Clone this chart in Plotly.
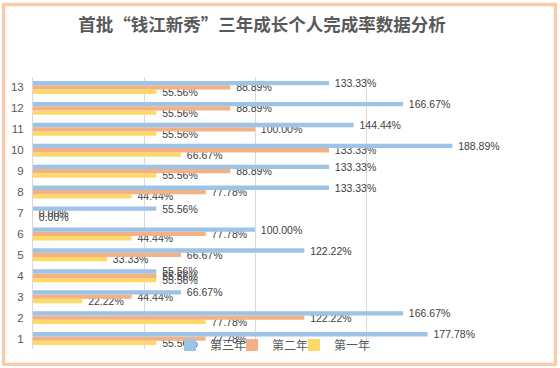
import plotly.graph_objects as go

categories = [str(i) for i in range(1, 14)]
year3 = [177.78, 166.67, 66.67, 55.56, 122.22, 100.00, 55.56, 133.33, 133.33, 188.89, 144.44, 166.67, 133.33]
year2 = [77.78, 122.22, 44.44, 55.56, 66.67, 77.78, 0.00, 77.78, 88.89, 133.33, 100.00, 88.89, 88.89]
year1 = [55.56, 77.78, 22.22, 55.56, 33.33, 44.44, 0.00, 44.44, 55.56, 66.67, 55.56, 55.56, 55.56]
series_names = ["第一年", "第二年", "第三年"]
colors = ["#FFD966", "#F4B183", "#9DC3E6"]

title = "首批“钱江新秀”三年成长个人完成率数据分析"

PW, PH = 444, 272
L, T = 33, 77
R, B = 560 - L - PW, 368 - T - PH

def px2x(px):
    return (px - L) / PW

def py2y(py):
    return (368 - B - py) / PH

legend_ids = ["legend3", "legend2", "legend"]
legend_px = [170 + 124, 170 + 62, 170]

fig = go.Figure()
for name, vals, col, lid in zip(series_names, [year1, year2, year3], colors, legend_ids):
    fig.add_trace(go.Bar(
        y=categories, x=[v / 100 for v in vals], name=name, orientation="h",
        marker=dict(color=col, line=dict(width=0)), legend=lid,
        texttemplate="\u00a0\u00a0%{x:.2%}", textposition="outside",
        constraintext="none", cliponaxis=False, hoverinfo="skip",
        textfont=dict(family="Liberation Sans", size=10.5, color="#404040"),
    ))

fig.add_shape(type="rect", xref="paper", yref="paper",
              x0=px2x(3.6), x1=px2x(555.5), y0=py2y(364.3), y1=py2y(4.5),
              line=dict(color="#F8CBAD", width=3.3), fillcolor="rgba(0,0,0,0)", layer="below")

def legend_style(px):
    return dict(orientation="h", x=px2x(px), xanchor="left",
                y=py2y(345), yanchor="middle", bgcolor="rgba(0,0,0,0)",
                itemwidth=30, font=dict(family="Noto Sans CJK SC", size=12, color="#595959"))

fig.update_layout(
    width=560, height=368,
    margin=dict(l=L, r=R, t=T, b=B, autoexpand=False),
    paper_bgcolor="white", plot_bgcolor="white",
    barmode="group", bargap=0.38, bargroupgap=0,
    hovermode=False,
    title=dict(text=title, x=262 / 560, xref="container", xanchor="center",
               y=1 - 25 / 368, yanchor="middle", automargin=False,
               font=dict(family="Noto Sans CJK SC", size=17.5, color="#595959", weight="bold")),
    xaxis=dict(range=[0, 2], dtick=0.5, showticklabels=False, showgrid=True, automargin=False,
               gridcolor="#D9D9D9", gridwidth=1, zeroline=False, showline=False),
    yaxis=dict(type="category", categoryorder="array", categoryarray=categories,
               showgrid=False, showline=True, linecolor="#D9D9D9", linewidth=1, automargin=False,
               ticks="", ticklabelstandoff=6,
               tickfont=dict(family="Liberation Sans", size=11.5, color="#595959")),
    legend=legend_style(legend_px[2]),
    legend2=legend_style(legend_px[1]),
    legend3=legend_style(legend_px[0]),
    showlegend=True,
)

fig.write_html("out.html", config={"displayModeBar": False},
               post_script="document.body.style.margin='0';")
